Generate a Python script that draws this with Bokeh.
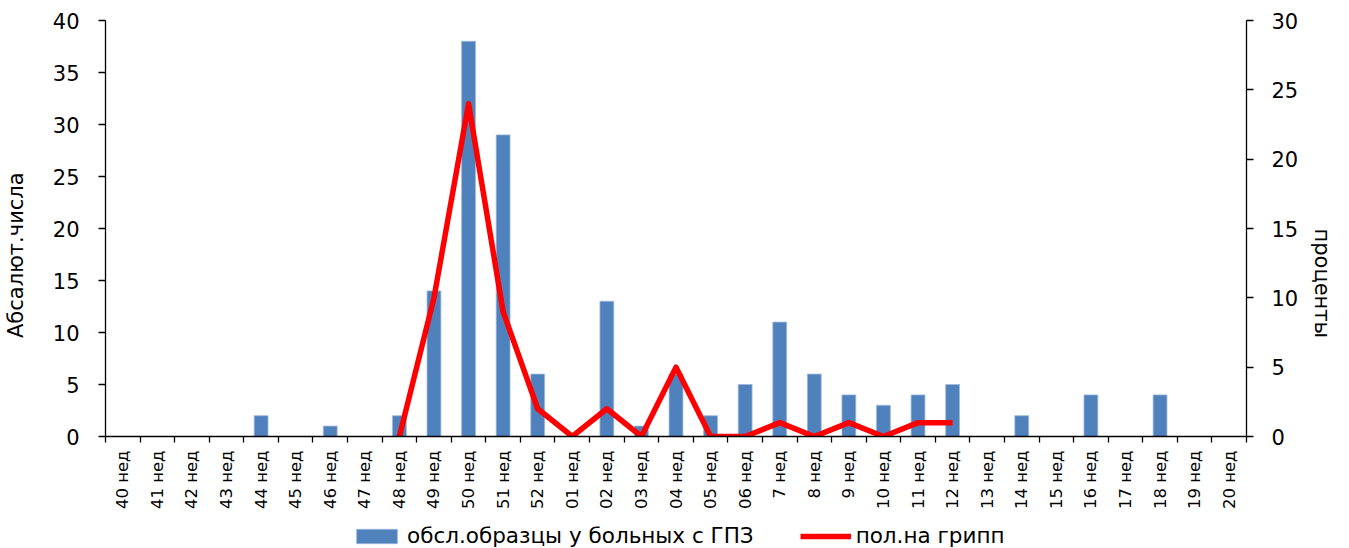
import math
from bokeh.plotting import figure
from bokeh.layouts import column
from bokeh.models import (Range1d, LinearAxis, FixedTicker, Legend, LegendItem,
                          ColumnDataSource)
from bokeh.embed import file_html
from bokeh.resources import INLINE

weeks = ["40 нед", "41 нед", "42 нед", "43 нед", "44 нед", "45 нед", "46 нед",
         "47 нед", "48 нед", "49 нед", "50 нед", "51 нед", "52 нед", "01 нед",
         "02 нед", "03 нед", "04 нед", "05 нед", "06 нед", "7 нед", "8 нед",
         "9 нед", "10 нед", "11 нед", "12 нед", "13 нед", "14 нед", "15 нед",
         "16 нед", "17 нед", "18 нед", "19 нед", "20 нед"]
samples = [0, 0, 0, 0, 2, 0, 1, 0, 2, 14, 38, 29, 6, 0, 13, 1, 6, 2, 5, 11, 6,
           4, 3, 4, 5, 0, 2, 0, 4, 0, 4, 0, 0]
nan = float("nan")
flu_pct = [nan, nan, nan, nan, nan, nan, nan, nan, 0, 10, 24, 9, 2, 0, 2, 0, 5,
           0, 0, 1, 0, 1, 0, 1, 1, nan, nan, nan, nan, nan, nan, nan, nan]
left_ticks = [0, 5, 10, 15, 20, 25, 30, 35, 40]
right_ticks = [0, 5, 10, 15, 20, 25, 30]
left_title = "Абсалют.числа"
right_title = "проценты"
series_names = ["обсл.образцы у больных с ГПЗ", "пол.на грипп"]

FONT = "DejaVu Sans"
NB = "\u00a0"
BAR_COLOR = "#4F81BD"
BAR_EDGE = "#9DB7DA"
LINE_COLOR = "#FF0000"
n = len(weeks)
xc = [i + 0.5 for i in range(n)]

p = figure(width=1349, height=520, output_backend="svg", toolbar_location=None,
           x_range=Range1d(0, n), y_range=Range1d(0, 40),
           min_border_left=100, min_border_right=102, min_border_top=20,
           min_border_bottom=84)
p.outline_line_color = None
p.xgrid.visible = False
p.ygrid.visible = False
p.extra_y_ranges = {"pct": Range1d(0, 30)}

src = ColumnDataSource(dict(x=xc, s=samples, f=flu_pct))
p.vbar(x="x", top="s", width=0.4, source=src, fill_color=BAR_COLOR,
       line_color=BAR_EDGE, line_width=0.8)
p.line(x="x", y="f", source=src, y_range_name="pct", line_color=LINE_COLOR,
       line_width=5.5, line_join="round")

# x axis
xa = p.xaxis[0]
xa.ticker = FixedTicker(ticks=xc, minor_ticks=list(range(n + 1)))
xa.major_label_overrides = {x: w for x, w in zip(xc, weeks)}
xa.major_label_orientation = math.pi / 2
xa.major_tick_line_color = None
xa.minor_tick_line_color = "black"
xa.minor_tick_out = 6
xa.minor_tick_in = 0
xa.axis_line_color = "black"
xa.axis_line_width = 1.3
xa.minor_tick_line_width = 1.3
xa.major_label_standoff = 8
xa.major_label_text_font = FONT
xa.major_label_text_font_size = "16.5px"
xa.major_label_text_color = "black"

# left axis
ya = p.yaxis[0]
ya.ticker = FixedTicker(ticks=left_ticks)
ya.minor_tick_line_color = None
ya.major_tick_out = 7
ya.major_tick_in = 0
ya.axis_line_width = 1.3
ya.major_tick_line_width = 1.3
ya.major_label_standoff = 19
ya.major_label_text_font = FONT
ya.major_label_text_font_size = "21px"
ya.major_label_text_color = "black"
ya.axis_label = left_title + NB * 8
ya.axis_label_text_font = FONT
ya.axis_label_text_font_size = "21px"
ya.axis_label_text_font_style = "normal"
ya.axis_label_text_color = "black"
ya.axis_label_standoff = 22

# right axis
ra = LinearAxis(y_range_name="pct", ticker=FixedTicker(ticks=right_ticks))
ra.minor_tick_line_color = None
ra.major_tick_out = 7
ra.major_tick_in = 0
ra.axis_line_width = 1.3
ra.major_tick_line_width = 1.3
ra.major_label_standoff = 18
ra.major_label_text_font = FONT
ra.major_label_text_font_size = "21px"
ra.major_label_text_color = "black"
ra.axis_label = right_title + NB * 15
ra.axis_label_orientation = -math.pi / 2
ra.axis_label_text_font = FONT
ra.axis_label_text_font_size = "21px"
ra.axis_label_text_font_style = "normal"
ra.axis_label_text_color = "black"
ra.axis_label_standoff = 21
p.add_layout(ra, "right")

# legend strip below the chart
q = figure(width=1349, height=28, output_backend="svg", toolbar_location=None,
           x_range=Range1d(0, 1), y_range=Range1d(0, 1),
           x_axis_type=None, y_axis_type=None,
           min_border_left=0, min_border_right=0, min_border_top=0,
           min_border_bottom=0)
q.outline_line_color = None
q.xgrid.visible = False
q.ygrid.visible = False
kb = q.vbar(x=[nan], top=[nan], width=0.4, fill_color=BAR_COLOR,
            line_color=BAR_EDGE, line_width=0.8)
kl = q.line(x=[nan, nan], y=[nan, nan], line_color=LINE_COLOR, line_width=5.5)
legend = Legend(items=[LegendItem(label=series_names[0], renderers=[kb]),
                       LegendItem(label=series_names[1], renderers=[kl])],
                orientation="horizontal", location=(246, 0),
                glyph_width=51, glyph_height=18, spacing=46, label_height=22,
                label_text_font=FONT, label_text_font_size="21.5px",
                label_text_color="black", border_line_color=None,
                background_fill_alpha=0, padding=0, margin=0, label_standoff=5)
q.add_layout(legend, "center")

layout = column(p, q, spacing=0)
open("out.html", "w").write(file_html(layout, INLINE))
